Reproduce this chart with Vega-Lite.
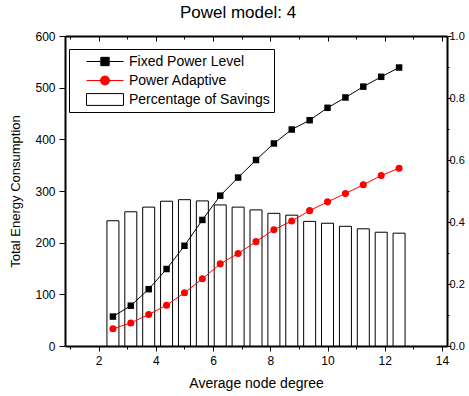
{
  "$schema": "https://vega.github.io/schema/vega-lite/v6.json",
  "width": 382,
  "height": 310,
  "autosize": {"type": "none"},
  "padding": {"left": 65, "top": 36, "right": 22, "bottom": 50},
  "background": "white",
  "title": {"text": "Powel model: 4", "fontSize": 17, "font": "Liberation Sans", "fontWeight": "normal", "anchor": "middle", "dx": -18, "offset": 8, "color": "black"},
  "datasets": {
    "main": [
      {"degree": 2.5, "fixed": 57, "adaptive": 33.5, "savings": 0.404},
      {"degree": 3.125, "fixed": 78, "adaptive": 44.5, "savings": 0.433},
      {"degree": 3.75, "fixed": 110, "adaptive": 61, "savings": 0.448},
      {"degree": 4.375, "fixed": 149, "adaptive": 79, "savings": 0.467},
      {"degree": 5.0, "fixed": 194, "adaptive": 103, "savings": 0.472},
      {"degree": 5.625, "fixed": 244, "adaptive": 130, "savings": 0.468},
      {"degree": 6.25, "fixed": 291, "adaptive": 159, "savings": 0.455},
      {"degree": 6.875, "fixed": 326, "adaptive": 179, "savings": 0.448},
      {"degree": 7.5, "fixed": 360, "adaptive": 202, "savings": 0.439},
      {"degree": 8.125, "fixed": 392, "adaptive": 225, "savings": 0.428},
      {"degree": 8.75, "fixed": 419, "adaptive": 242, "savings": 0.422},
      {"degree": 9.375, "fixed": 437, "adaptive": 262, "savings": 0.402},
      {"degree": 10.0, "fixed": 461, "adaptive": 279, "savings": 0.396},
      {"degree": 10.625, "fixed": 481, "adaptive": 295, "savings": 0.386},
      {"degree": 11.25, "fixed": 502, "adaptive": 312, "savings": 0.378},
      {"degree": 11.875, "fixed": 521, "adaptive": 330, "savings": 0.367},
      {"degree": 12.5, "fixed": 539, "adaptive": 344, "savings": 0.364}
    ],
    "legend": [
      {"series": "Fixed Power Level"},
      {"series": "Power Adaptive"},
      {"series": "Percentage of Savings"}
    ]
  },
  "layer": [
    {
      "data": {"name": "main"},
      "mark": {"type": "bar", "size": 12, "fill": "white", "stroke": "black", "strokeWidth": 1},
      "encoding": {
        "x": {
          "field": "degree", "type": "quantitative",
          "scale": {"domain": [1, 14], "nice": false, "zero": false},
          "axis": {"orient": "top", "values": [1,2,3,4,5,6,7,8,9,10,11,12,13,14], "labels": false, "title": null,
                   "tickSize": {"condition": {"test": "datum.value % 2 === 0", "value": -5}, "value": -3}}
        },
        "y": {
          "field": "savings", "type": "quantitative",
          "scale": {"domain": [0, 1], "nice": false},
          "axis": {"orient": "right", "values": [0,0.1,0.2,0.3,0.4,0.5,0.6,0.7,0.8,0.9,1.0], "title": null,
                   "labelExpr": "round(datum.value*10) % 2 === 0 ? format(datum.value, '.1f') : ''",
                   "tickSize": {"condition": {"test": "round(datum.value*10) % 2 === 0", "value": 4}, "value": 2},
                   "labelPadding": -2, "labelFontSize": 11}
        }
      }
    },
    {
      "data": {"name": "main"},
      "encoding": {
        "x": {
          "field": "degree", "type": "quantitative",
          "scale": {"domain": [1, 14], "nice": false, "zero": false},
          "axis": {"orient": "bottom", "values": [1,2,3,4,5,6,7,8,9,10,11,12,13,14], "title": "Average node degree",
                   "labelExpr": "datum.value % 2 === 0 ? datum.label : ''",
                   "tickSize": {"condition": {"test": "datum.value % 2 === 0", "value": 5}, "value": 3},
                   "labelPadding": 4, "titleFontSize": 14, "titlePadding": 10}
        }
      },
      "layer": [
        {
          "mark": {"type": "line", "color": "black", "strokeWidth": 1,
                   "point": {"shape": "square", "filled": true, "size": 42, "color": "black"}},
          "encoding": {
            "y": {
              "field": "fixed", "type": "quantitative",
              "scale": {"domain": [0, 600], "nice": false},
              "axis": {"orient": "left", "values": [0,50,100,150,200,250,300,350,400,450,500,550,600],
                       "labelExpr": "datum.value % 100 === 0 ? datum.label : ''",
                       "tickSize": {"condition": {"test": "datum.value % 100 === 0", "value": 6}, "value": 3},
                       "labelPadding": 4, "title": "Total Energy Consumption", "titleFontSize": 13, "titlePadding": 12}
            }
          }
        },
        {
          "mark": {"type": "line", "color": "red", "strokeWidth": 1,
                   "point": {"shape": "circle", "filled": true, "size": 50, "color": "red"}},
          "encoding": {
            "y": {"field": "adaptive", "type": "quantitative"}
          }
        }
      ]
    },
    {
      "data": {"name": "legend"},
      "mark": {"type": "point", "opacity": 0},
      "encoding": {
        "shape": {
          "field": "series", "type": "nominal", "sort": null,
          "scale": {"domain": ["Fixed Power Level", "Power Adaptive", "Percentage of Savings"],
                    "range": ["M-1,0H1M-0.225,-0.225H0.225V0.225H-0.225Z",
                              "M-1,0H1M-0.243,0A0.243,0.243,0,1,1,0.243,0A0.243,0.243,0,1,1,-0.243,0Z",
                              "M-1,-0.32H1V0.32H-1Z"]},
          "legend": {"orient": "none", "legendX": 4, "legendY": 13, "title": null, "labelLimit": 300, "labelExpr": "datum.label + '\u00a0\u00a0\u00a0\u00a0\u00a0'"}
        },
        "fill": {
          "field": "series", "type": "nominal", "sort": null,
          "scale": {"domain": ["Fixed Power Level", "Power Adaptive", "Percentage of Savings"],
                    "range": ["black", "red", "white"]},
          "legend": {"orient": "none", "legendX": 4, "legendY": 13, "title": null, "labelLimit": 300, "labelExpr": "datum.label + '\u00a0\u00a0\u00a0\u00a0\u00a0'"}
        },
        "stroke": {
          "field": "series", "type": "nominal", "sort": null,
          "scale": {"domain": ["Fixed Power Level", "Power Adaptive", "Percentage of Savings"],
                    "range": ["black", "red", "black"]},
          "legend": {"orient": "none", "legendX": 4, "legendY": 13, "title": null, "labelLimit": 300, "labelExpr": "datum.label + '\u00a0\u00a0\u00a0\u00a0\u00a0'"}
        }
      }
    }
  ],
  "resolve": {"scale": {"y": "independent"}, "axis": {"x": "independent", "y": "independent"}},
  "config": {
    "view": {"stroke": null},
    "font": "Liberation Sans",
    "axis": {"grid": false, "domainColor": "black", "domainWidth": 2, "tickColor": "black", "tickWidth": 1,
             "labelColor": "black", "titleColor": "black", "labelFont": "Liberation Sans", "titleFont": "Liberation Sans",
             "labelFontSize": 12, "titleFontWeight": "normal", "labelFlush": false, "labelOverlap": false, "zindex": 1},
    "legend": {"strokeColor": "black", "fillColor": "white", "padding": 4, "symbolSize": 1369, "symbolStrokeWidth": 1,
               "symbolOffset": 13, "labelOffset": 5, "labelFont": "Liberation Sans", "labelFontSize": 14,
               "labelColor": "black", "clipHeight": 17, "rowPadding": 2, "symbolOpacity": 1}
  }
}
